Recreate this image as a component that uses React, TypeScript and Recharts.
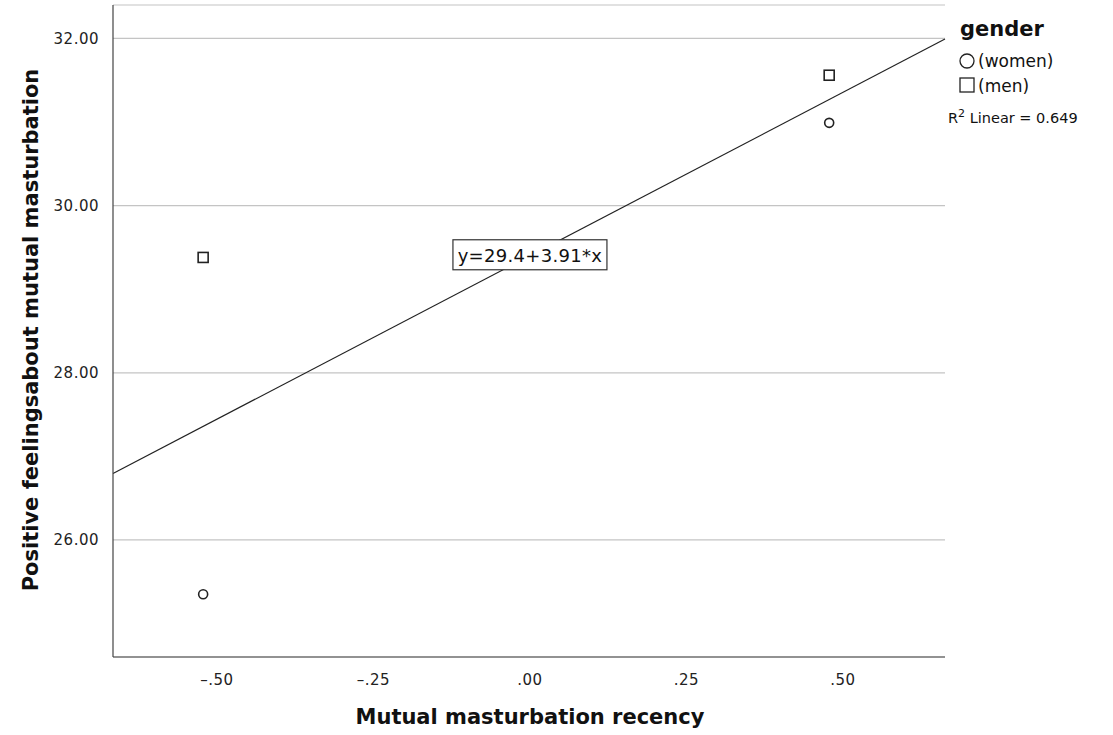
import React from 'react';
import {
  ScatterChart, Scatter, XAxis, YAxis, CartesianGrid, ReferenceLine, ReferenceDot
} from 'recharts';

const xTicks = [-0.5, -0.25, 0, 0.25, 0.5];
const yTicks = [26, 28, 30, 32];
const xDomain = [-0.666, 0.663];
const yDomain = [24.6, 32.4];

const womenX = [-0.522, 0.478];
const womenY = [25.35, 30.99];
const menX = [-0.522, 0.478];
const menY = [29.38, 31.56];

const fitIntercept = 29.4;
const fitSlope = 3.91;
const rSquared = 0.649;

const women = womenX.map((x, i) => ({ x, y: womenY[i] }));
const men = menX.map((x, i) => ({ x, y: menY[i] }));
const fitLine = xDomain.map((x) => ({ x, y: fitIntercept + fitSlope * x }));

const FONT = '"DejaVu Sans", sans-serif';

const fmtX = (v: number) => {
  if (v === 0) return '.00';
  const s = Math.abs(v).toFixed(2).replace(/^0/, '');
  return v < 0 ? '\u2013' + s : s;
};

const CircleDot = (props: any) => {
  const { cx, cy } = props;
  return <circle cx={cx} cy={cy} r={4.5} fill="#fff" stroke="#222" strokeWidth={1.6} />;
};

const SquareDot = (props: any) => {
  const { cx, cy } = props;
  return <rect x={cx - 5} y={cy - 5} width={10} height={10} fill="#fff" stroke="#222" strokeWidth={1.6} />;
};

const EquationLabel = (props: any) => {
  const { cx, cy } = props;
  if (cx == null || cy == null) return null;
  return (
    <g>
      <rect x={cx - 77} y={cy - 16} width={154} height={30} fill="#fff" stroke="#333" strokeWidth={1.2} />
      <text x={cx} y={cy + 6} textAnchor="middle" fontFamily={FONT} fontSize={18} letterSpacing={0.3} fill="#111">
        {`y=${fitIntercept}+${fitSlope}*x`}
      </text>
    </g>
  );
};

export default function App() {
  return (
    <div style={{ position: 'absolute', left: 0, top: 0, width: 1113, height: 735, background: '#fff' }}>
      <ScatterChart width={1113} height={735} margin={{ top: 5, right: 168, bottom: 0, left: 0 }}>
        <CartesianGrid horizontal vertical={false} stroke="#c4c4c4" strokeWidth={1.2} />
        <XAxis
          type="number"
          dataKey="x"
          domain={xDomain}
          ticks={xTicks}
          tickFormatter={fmtX}
          allowDataOverflow
          height={78}
          tickLine={false}
          axisLine={{ stroke: '#444', strokeWidth: 1.2 }}
          tick={{ fontFamily: FONT, fontSize: 15, fill: '#222', letterSpacing: 0.5 }}
          tickMargin={11}
        />
        <YAxis
          type="number"
          dataKey="y"
          domain={yDomain}
          ticks={yTicks}
          tickFormatter={(v: number) => v.toFixed(2)}
          allowDataOverflow
          width={113}
          tickLine={false}
          axisLine={{ stroke: '#444', strokeWidth: 1.2 }}
          tick={{ fontFamily: FONT, fontSize: 15, fill: '#222', letterSpacing: 0.5 }}
          tickMargin={8}
        />
        <ReferenceLine
          segment={fitLine}
          stroke="#222"
          strokeWidth={1.2}
          ifOverflow="visible"
        />
        <Scatter data={women} shape={CircleDot} isAnimationActive={false} />
        <Scatter data={men} shape={SquareDot} isAnimationActive={false} />
        <ReferenceDot x={0} y={fitIntercept} shape={EquationLabel} ifOverflow="visible" />
        <text x={530} y={724} textAnchor="middle" fontFamily={FONT} fontSize={21} fontWeight="bold" fill="#111">
          Mutual masturbation recency
        </text>
        <text
          x={0}
          y={0}
          transform="translate(38,330) rotate(-90)"
          textAnchor="middle"
          fontFamily={FONT}
          fontSize={21}
          fontWeight="bold"
          fill="#111"
        >
          Positive feelingsabout mutual masturbation
        </text>
        <g fontFamily={FONT} fill="#111">
          <text x={960} y={36} fontSize={21} fontWeight="bold">gender</text>
          <circle cx={967} cy={61} r={7} fill="#fff" stroke="#222" strokeWidth={1.3} />
          <text x={978} y={67} fontSize={17}>(women)</text>
          <rect x={960} y={78} width={14} height={14} fill="#fff" stroke="#222" strokeWidth={1.3} />
          <text x={978} y={92} fontSize={17}>(men)</text>
          <text x={948} y={123} fontSize={14.5}>
            R<tspan dy={-6} fontSize={11}>2</tspan>
            <tspan dy={6}>{`  Linear = ${rSquared}`}</tspan>
          </text>
        </g>
      </ScatterChart>
    </div>
  );
}
